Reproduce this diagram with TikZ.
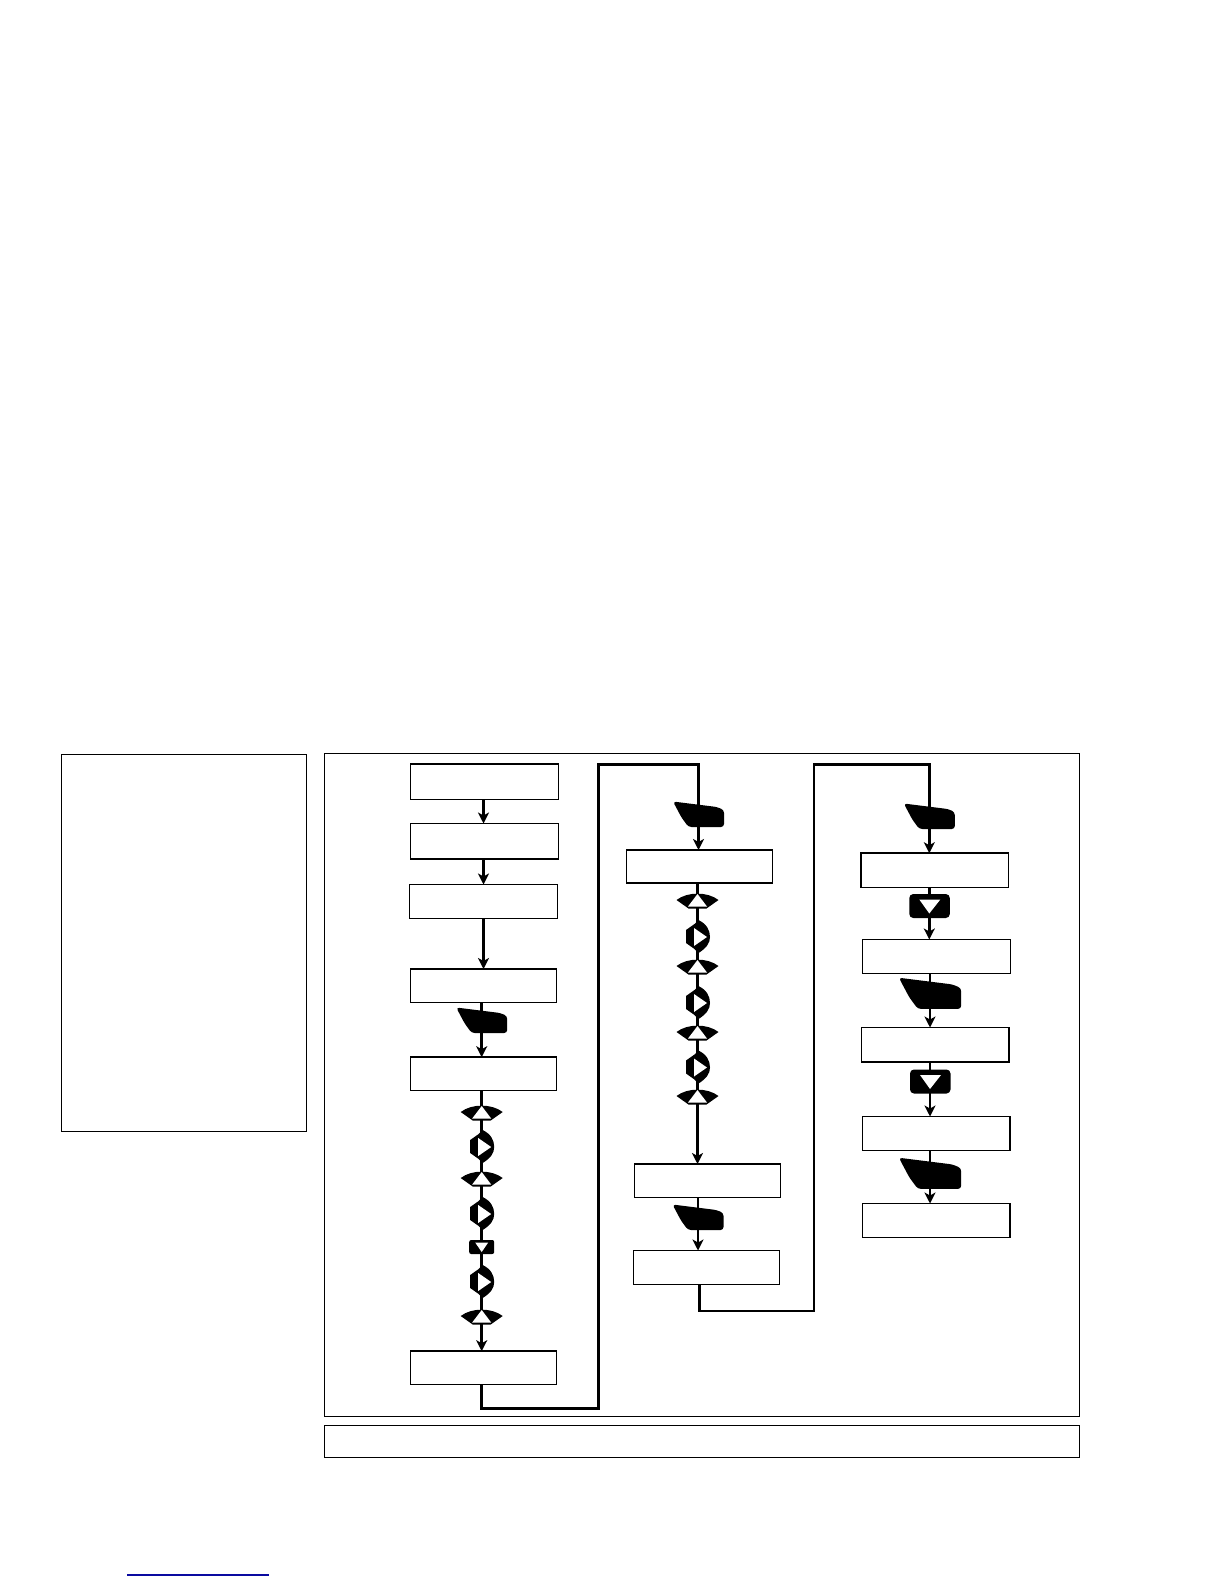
\documentclass[tikz,border=0pt]{standalone}
\usetikzlibrary{arrows.meta,calc}
\definecolor{linkblue}{RGB}{10,10,160}
\tikzset{
  panel/.style={draw=black,line width=1pt,fill=none},
  stepbox/.style={draw=black,line width=1.5pt,fill=white,inner sep=0pt,outer sep=0pt,anchor=north west},
  link/.style={draw=black,line width=2.5pt,-{Stealth[length=11pt,width=11pt,inset=3pt]}},
  plainlink/.style={draw=black,line width=2.8pt,line join=miter},
  keya/.pic={
    \fill[black,rounded corners=3pt] (-25.5,-12.5) -- (18.5,-7) -- (25.5,-4) -- (25.5,13) -- (-10,13) -- (-17,3.5) -- cycle;
  },
  keyfan/.pic={
    \fill[black] (-21,0) .. controls (-10,-8.5) and (10,-8.5) .. (21,0) -- (9,8.5) -- (-9,8.5) -- cycle;
    \fill[white] (0,-6) -- (9.5,6.5) -- (-9.5,6.5) -- cycle;
  },
  keyright/.pic={
    \fill[black] (-11.5,-6) -- (-3,-12) -- (1,-16) .. controls (9,-12) and (12.5,-6) .. (12.5,1) .. controls (12.5,7) and (9,12) .. (1,17) -- (-3,13) -- (-11.5,7) -- cycle;
    \fill[white] (-3.5,-8) -- (9.5,1) -- (-3.5,10) -- cycle;
  },
  keydown/.pic={
    \fill[black,rounded corners=2pt] (-12.5,-7) rectangle (12.5,7);
    \fill[white] (-6.5,-4.5) -- (6.5,-4.5) -- (0,5) -- cycle;
  },
  keydownbig/.pic={
    \fill[black,rounded corners=4pt] (-20,-12) rectangle (20.5,12);
    \fill[white] (-10,-6.5) -- (11,-6.5) -- (0,7.5) -- cycle;
  },
}
\newcommand{\stepat}[5]{\node[stepbox,minimum width={#4-#2},minimum height={#5-#3}] (#1) at (#2,#3) {};}
\begin{document}
\begin{tikzpicture}[x=1pt,y=-1pt]
\useasboundingbox (0,0) rectangle (1224,1584);
\fill[white] (0,0) rectangle (1224,1584);
% panels
\draw[panel] (61,754) rectangle (306,1131);
\draw[panel] (324,753) rectangle (1079.5,1416);
\draw[panel] (324,1425) rectangle (1079.5,1457);
\draw[draw=linkblue,line width=1.3pt] (127,1575) -- (269,1575);
% key positions
\coordinate (ka) at (481.7,1020);
\coordinate (k1) at (481.7,1112);
\coordinate (k2) at (481.7,1146);
\coordinate (k3) at (481.7,1178);
\coordinate (k4) at (481.7,1213);
\coordinate (k5) at (481.7,1247);
\coordinate (k6) at (481.7,1281);
\coordinate (k7) at (481.7,1316);
\coordinate (kb) at (698.5,814);
\coordinate (m1) at (697.5,900);
\coordinate (m2) at (697.5,936);
\coordinate (m3) at (697.5,966);
\coordinate (m4) at (697.5,1002);
\coordinate (m5) at (697.5,1032);
\coordinate (m6) at (697.5,1066.5);
\coordinate (m7) at (697.5,1096);
\coordinate (kc) at (698,1217);
\coordinate (kd) at (929.3,816);
\coordinate (r1) at (929.3,906);
\coordinate (ke) at (930,993);
\coordinate (r2) at (930,1081.5);
\coordinate (kf) at (930,1173);
% boxes
\stepat{b1}{410.5}{764}{558.5}{799.5}
\stepat{b2}{410.5}{823.5}{558.5}{859}
\stepat{b3}{409.5}{884.5}{557.5}{918.5}
\stepat{b4}{410.5}{969}{556.5}{1002.5}
\stepat{b5}{410.5}{1057.2}{556.5}{1090.5}
\stepat{b6}{410.5}{1351.2}{556.5}{1384.5}
\stepat{c1}{626.5}{850}{772.5}{883}
\stepat{c2}{634.5}{1164}{780.5}{1197.5}
\stepat{c3}{633.5}{1250.5}{779.5}{1284.5}
\stepat{d1}{861}{853.2}{1008.7}{887.5}
\stepat{d2}{862.5}{939.5}{1010.5}{973.5}
\stepat{d3}{861.5}{1027.5}{1009}{1062}
\stepat{d4}{862.5}{1116.5}{1010}{1150.5}
\stepat{d5}{862.5}{1203.5}{1010}{1237.5}
% connectors
\coordinate (cola) at (483.5,0);
\coordinate (colc) at (699.5,0);
\draw[link] (b1.south -| cola) -- (b2.north -| cola);
\draw[link] (b2.south -| cola) -- (b3.north -| cola);
\draw[link] (b3.south -| cola) -- (b4.north -| cola);
\draw[link] (b4.south -| ka) -- (b5.north -| ka);
\draw[link] (b5.south -| k1) -- (b6.north -| k1);
\draw[plainlink] (b6.south -| k1) |- (598.3,1408.5) |- (kb |- 764.5,764.5) -- (kb);
\draw[link] (kb) -- (c1.north -| kb);
\draw[link] (c1.south -| m1) -- (c2.north -| m1);
\draw[link] (c2.south -| kc) -- (c3.north -| kc);
\coordinate (cbend) at (814,1311);
\draw[plainlink] (c3.south -| colc) |- (cbend) |- (kd |- 764.5,764.5) -- (kd);
\draw[link] (kd) -- (d1.north -| kd);
\draw[link] (d1.south -| r1) -- (d2.north -| r1);
\draw[link] (d2.south -| ke) -- (d3.north -| ke);
\draw[link] (d3.south -| r2) -- (d4.north -| r2);
\draw[link] (d4.south -| kf) -- (d5.north -| kf);
% keys
\pic at (ka) {keya};
\pic at (k1) {keyfan};
\pic at (k2) {keyright};
\pic at (k3) {keyfan};
\pic at (k4) {keyright};
\pic at (k5) {keydown};
\pic at (k6) {keyright};
\pic at (k7) {keyfan};
\pic at (kb) {keya};
\pic at (m1) {keyfan};
\pic at (m2) {keyright};
\pic at (m3) {keyfan};
\pic at (m4) {keyright};
\pic at (m5) {keyfan};
\pic at (m6) {keyright};
\pic at (m7) {keyfan};
\pic at (kc) {keya};
\pic at (kd) {keya};
\pic at (r1) {keydownbig};
\pic[scale=1.22] at (ke) {keya};
\pic at (r2) {keydownbig};
\pic[scale=1.22] at (kf) {keya};
\end{tikzpicture}
\end{document}
